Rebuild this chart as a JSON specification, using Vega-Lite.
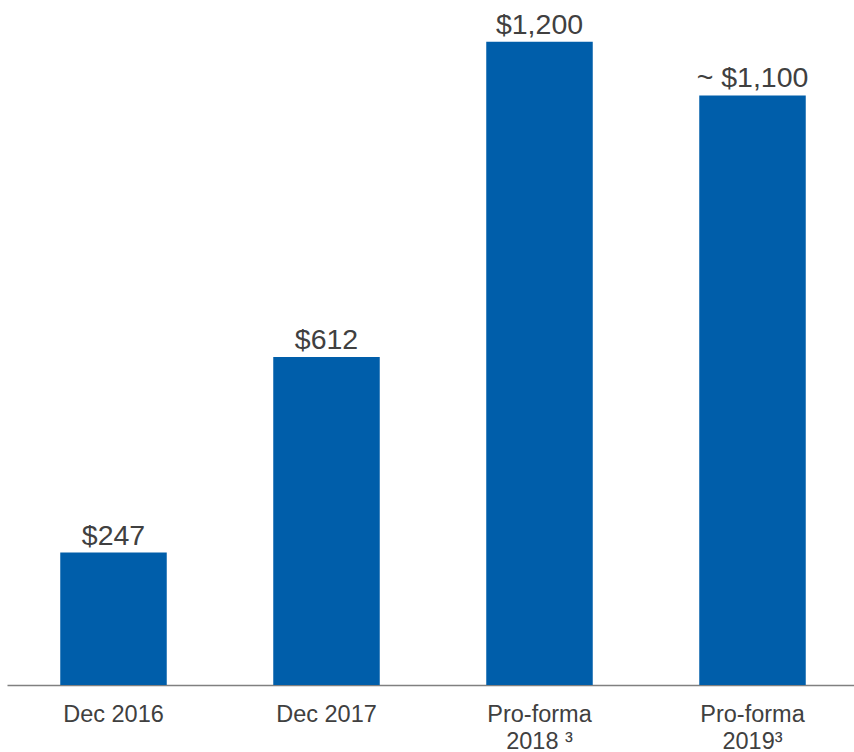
{
  "$schema": "https://vega.github.io/schema/vega-lite/v6.json",
  "width": 852,
  "height": 685,
  "padding": {"left": 7, "top": 0, "right": 0, "bottom": 0},
  "autosize": {"type": "pad"},
  "background": "white",
  "config": {"view": {"stroke": null}, "font": "Liberation Sans"},
  "data": {
    "values": [
      {"period": "Dec 2016", "value": 247, "label": "$247"},
      {"period": "Dec 2017", "value": 612, "label": "$612"},
      {"period": "Pro-forma|2018 ³", "value": 1200, "label": "$1,200"},
      {"period": "Pro-forma|2019³", "value": 1100, "label": "~ $1,100"}
    ]
  },
  "encoding": {
    "x": {
      "field": "period",
      "type": "nominal",
      "sort": null,
      "scale": {"paddingInner": 0.5, "paddingOuter": 0.25},
      "axis": {
        "title": null,
        "labelAngle": 0,
        "ticks": false,
        "labelExpr": "split(datum.label, '|')",
        "labelFont": "Liberation Sans",
        "labelFontSize": 23.5,
        "labelColor": "#404040",
        "labelPadding": 17,
        "labelLineHeight": 27,
        "labelBaseline": "top",
        "domainColor": "#808080",
        "domainWidth": 1.5
      }
    },
    "y": {
      "field": "value",
      "type": "quantitative",
      "scale": {"domain": [0, 1278], "nice": false},
      "axis": null
    }
  },
  "layer": [
    {"mark": {"type": "bar", "color": "#005EAA"}},
    {
      "mark": {
        "type": "text",
        "baseline": "alphabetic",
        "dy": -8,
        "font": "Liberation Sans",
        "fontSize": 28.5,
        "color": "#404040"
      },
      "encoding": {"text": {"field": "label"}}
    }
  ]
}
